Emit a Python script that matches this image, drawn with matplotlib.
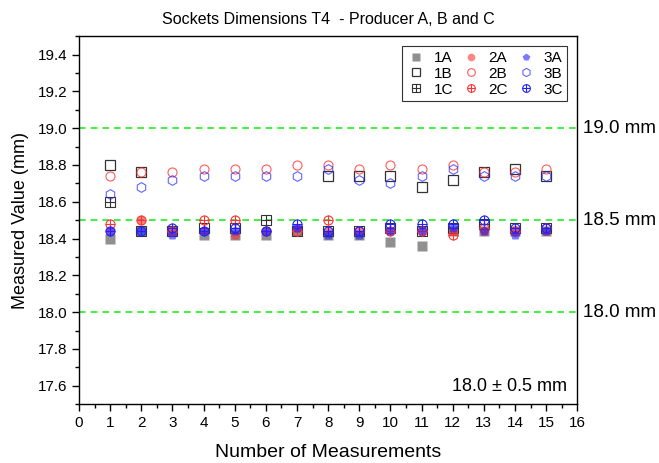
import numpy as np
import matplotlib.pyplot as plt
from matplotlib.ticker import MultipleLocator
from matplotlib.lines import Line2D

plt.rcParams['font.family'] = ['Liberation Sans', 'DejaVu Sans']

measurements = np.arange(1, 16)
nan = np.nan

# producer A (filled), B (open), C (crossed) - sockets 1, 2, 3
s1A = [18.40, 18.44, 18.44, 18.42, 18.42, 18.42, 18.44, 18.42, 18.42, 18.38, 18.36, 18.44, 18.44, 18.44, 18.44]
s2A = [18.44, 18.50, 18.44, 18.44, 18.42, 18.44, 18.46, 18.44, 18.44, 18.44, 18.44, 18.44, 18.44, 18.44, 18.44]
s3A = [18.44, 18.44, 18.42, 18.44, 18.44, 18.44, 18.46, 18.42, 18.42, 18.44, 18.44, 18.46, 18.44, 18.42, 18.44]
s1B = [18.80, 18.76, nan, nan, nan, nan, nan, 18.74, 18.74, 18.74, 18.68, 18.72, 18.76, 18.78, 18.74]
s2B = [18.74, 18.76, 18.76, 18.78, 18.78, 18.78, 18.80, 18.80, 18.78, 18.80, 18.78, 18.80, 18.76, 18.76, 18.78]
s3B = [18.64, 18.68, 18.72, 18.74, 18.74, 18.74, 18.74, 18.78, 18.72, 18.70, 18.74, 18.78, 18.74, 18.74, 18.74]
s1C = [18.60, 18.44, 18.44, 18.46, 18.46, 18.50, 18.44, 18.44, 18.44, 18.46, 18.44, 18.46, 18.48, 18.46, 18.46]
s2C = [18.48, 18.50, 18.44, 18.50, 18.50, 18.44, 18.44, 18.50, 18.44, 18.44, 18.44, 18.42, 18.46, 18.44, 18.46]
s3C = [18.44, 18.44, 18.46, 18.44, 18.46, 18.44, 18.48, 18.44, 18.44, 18.48, 18.48, 18.48, 18.50, 18.46, 18.46]

limits = [19.0, 18.5, 18.0]
limit_labels = ["19.0 mm", "18.5 mm", "18.0 mm"]

fig = plt.figure(figsize=(6.59, 4.63), dpi=100)
ax = fig.add_axes([0.12, 0.127, 0.756, 0.795])

for y in limits:
    ax.axhline(y, color='#22ee22', ls=(0, (4, 3)), lw=1.2, zorder=1)

ms = 6.5
gray, red, blue = '#555555', '#ff3333', '#2222ff'
ax.plot(measurements, s1A, 's', ms=ms, color=gray, alpha=0.65, mec='none', label='1A')
ax.plot(measurements, s1B, 's', ms=ms, mfc='none', mec='#333333', mew=0.9, label='1B')
ax.plot(measurements, s1C, 's', ms=ms, mfc='none', mec='#333333', mew=0.8, label='1C')
ax.plot(measurements, s1C, '+', ms=ms, color='#333333', mew=0.8)
ax.plot(measurements, s2A, 'o', ms=ms, color=red, alpha=0.6, mec='none', label='2A')
ax.plot(measurements, s2B, 'o', ms=ms, mfc='none', mec=red, mew=0.8, alpha=0.8, label='2B')
ax.plot(measurements, s2C, 'o', ms=ms, mfc='none', mec=red, mew=0.8, label='2C')
ax.plot(measurements, s2C, '+', ms=ms, color=red, mew=0.8)
ax.plot(measurements, s3A, 'p', ms=ms + 0.5, color=blue, alpha=0.6, mec='none', label='3A')
ax.plot(measurements, s3B, 'h', ms=ms + 0.5, mfc='none', mec=blue, mew=0.8, alpha=0.7, label='3B')
ax.plot(measurements, s3C, 'o', ms=ms, mfc='none', mec=blue, mew=0.8, label='3C')
ax.plot(measurements, s3C, '+', ms=ms, color=blue, mew=0.8)

# legend with crossed markers for the C series
h, l = ax.get_legend_handles_labels()
def crossed(marker, col):
    a = Line2D([], [], marker=marker, ls='none', ms=ms, mfc='none', mec=col, mew=0.8)
    b = Line2D([], [], marker='+', ls='none', ms=ms, color=col, mew=0.8)
    return (a, b)
handles = {lab: hd for hd, lab in zip(h, l)}
handles['1C'] = crossed('s', '#333333')
handles['2C'] = crossed('o', red)
handles['3C'] = crossed('o', blue)
order = ['1A', '1B', '1C', '2A', '2B', '2C', '3A', '3B', '3C']
leg = ax.legend([handles[k] for k in order], order, ncol=3, loc='upper right',
                bbox_to_anchor=(0.995, 0.993), fontsize=11, frameon=True, fancybox=False,
                edgecolor='#333333', framealpha=1, handletextpad=0.5, columnspacing=0.5,
                labelspacing=0.12, borderpad=0.3, handlelength=1.3, markerscale=0.85)
leg.get_frame().set_linewidth(0.8)

ax.set_xlim(0, 16)
ax.set_ylim(17.5, 19.5)
ax.xaxis.set_major_locator(MultipleLocator(1))
ax.xaxis.set_minor_locator(MultipleLocator(0.5))
ax.yaxis.set_major_locator(MultipleLocator(0.2))
ax.yaxis.set_minor_locator(MultipleLocator(0.1))
ax.tick_params(which='both', direction='out', top=False, right=False, labelsize=11)
ax.tick_params(which='major', length=5, width=1)
ax.tick_params(which='minor', length=3, width=1)
for sp in ax.spines.values():
    sp.set_linewidth(1.0)

ax.set_xlabel('Number of Measurements', fontsize=14, labelpad=10)
ax.set_ylabel('Measured Value (mm)', fontsize=13, labelpad=6)
ax.set_title('Sockets Dimensions T4  - Producer A, B and C', fontsize=11.5, pad=9)

for y, t in zip(limits, limit_labels):
    ax.text(1.012, (y - 17.5) / 2.0, t, transform=ax.transAxes, fontsize=13.5,
            va='center', ha='left')
ax.text(0.98, 0.025, '18.0 ± 0.5 mm', transform=ax.transAxes, fontsize=13,
        ha='right', va='bottom')

fig.savefig('out.png', dpi=100)
